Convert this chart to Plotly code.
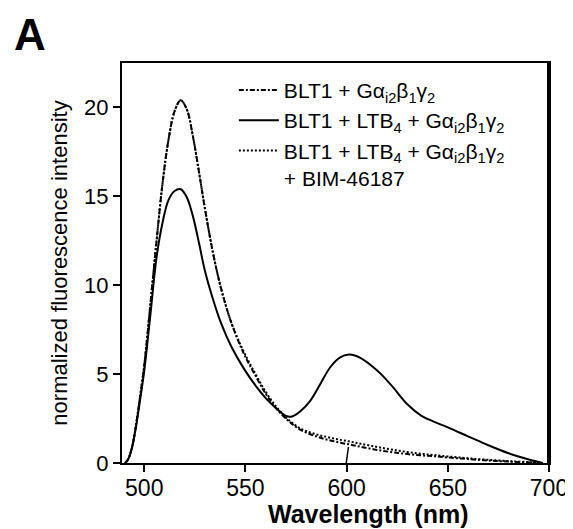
import plotly.graph_objects as go

# emission spectra
wavelength = [490.5, 492, 494, 496, 498, 500, 503, 506, 509, 512, 515, 518, 521, 524, 527,
              530, 534, 538, 543, 549, 555, 560, 565, 570, 573, 577, 582, 587, 592, 597,
              601, 604, 607, 612, 617, 623, 630, 637, 643, 650, 660, 670, 680, 690, 697]

blt1_g = [0, 0.2, 0.9, 2.2, 3.8, 5.5, 8.9, 12.4, 15.7, 18.2, 19.8, 20.4, 19.9, 18.4, 16.4,
          14.3, 11.8, 9.8, 7.9, 6.2, 4.9, 3.9, 3.1, 2.5, 2.2, 1.88, 1.62, 1.42, 1.27, 1.14,
          1.05, 0.98, 0.91, 0.8, 0.7, 0.6, 0.5, 0.43, 0.38, 0.31, 0.22, 0.14, 0.08, 0.03, 0]

blt1_ltb4_g = [0, 0.2, 0.9, 2.1, 3.6, 5.2, 8.3, 11.5, 13.5, 14.8, 15.3, 15.4, 14.95, 13.9, 12.4,
               10.8, 9.2, 7.85, 6.55, 5.35, 4.35, 3.65, 3.1, 2.65, 2.62, 2.9, 3.5, 4.45, 5.4, 5.95,
               6.1, 6.05, 5.9, 5.5, 5.0, 4.25, 3.3, 2.65, 2.33, 2.0, 1.5, 1.0, 0.55, 0.2, 0]

blt1_ltb4_g_bim = [0, 0.2, 0.9, 2.2, 3.8, 5.5, 8.9, 12.4, 15.7, 18.2, 19.8, 20.4, 19.9, 18.4, 16.4,
                   14.3, 11.8, 9.8, 7.9, 6.3, 5.0, 4.0, 3.2, 2.55, 2.27, 1.95, 1.72, 1.55, 1.42, 1.3,
                   1.22, 1.15, 1.08, 0.97, 0.86, 0.74, 0.62, 0.52, 0.45, 0.37, 0.27, 0.18, 0.11, 0.05, 0]

# small stray stroke near 600 nm in the original
stroke_x = [599.8, 600.9]
stroke_y = [0, 0.9]

lab1 = "BLT1 + Gα<sub>i2</sub>β<sub>1</sub>γ<sub>2</sub>"
lab2 = "BLT1 + LTB<sub>4</sub> + Gα<sub>i2</sub>β<sub>1</sub>γ<sub>2</sub>"
lab3 = "BLT1 + LTB<sub>4</sub> + Gα<sub>i2</sub>β<sub>1</sub>γ<sub>2</sub><br>+ BIM-46187"

FONT = "Liberation Sans, Arial, sans-serif"

fig = go.Figure()
fig.add_trace(go.Scatter(x=wavelength, y=blt1_g, mode="lines", name=lab1,
                         line=dict(color="black", width=2, dash="5px,2px,2px,2px", shape="spline")))
fig.add_trace(go.Scatter(x=wavelength, y=blt1_ltb4_g, mode="lines", name=lab2,
                         line=dict(color="black", width=2, shape="spline")))
fig.add_trace(go.Scatter(x=wavelength, y=blt1_ltb4_g_bim, mode="lines", name=lab3,
                         line=dict(color="black", width=2, dash="2px,2px", shape="spline")))
fig.add_trace(go.Scatter(x=stroke_x, y=stroke_y, mode="lines", showlegend=False,
                         line=dict(color="black", width=1.5)))

# page body has an 8px margin, so the figure is a bit smaller than the window
fig.update_layout(
    width=565, height=521,
    margin=dict(l=114, r=24, t=55, b=66),
    plot_bgcolor="white", paper_bgcolor="white",
    font=dict(family=FONT, color="black"),
    legend=dict(x=0.262, y=0.983, xanchor="left", yanchor="top", bgcolor="rgba(0,0,0,0)",
                font=dict(size=21), valign="top", tracegroupgap=0, itemwidth=40),
    annotations=[
        dict(text="<b>A</b>", x=-0.258, y=1.1375, xref="paper", yref="paper",
             xanchor="left", yanchor="top", showarrow=False, font=dict(size=44)),
        dict(text="<b>Wavelength (nm)</b>", x=0.576, y=-0.1275, xref="paper", yref="paper",
             xanchor="center", yanchor="middle", showarrow=False, font=dict(size=25)),
    ],
    shapes=[dict(type="line", xref="paper", yref="paper", x0=1, x1=1, y0=0, y1=1,
                 line=dict(color="black", width=4))],
)
fig.update_xaxes(range=[489, 700], tickvals=[500, 550, 600, 650, 700], automargin=False,
                 showgrid=False, zeroline=False, showline=True, mirror=True,
                 linecolor="black", linewidth=2, ticks="outside", ticklen=7,
                 tickwidth=2, tickcolor="black", ticklabelstandoff=-4,
                 tickfont=dict(size=23), tickprefix="<b>", ticksuffix="</b>")
fig.update_yaxes(range=[0, 22.5], tickvals=[0, 5, 10, 15, 20], automargin=False,
                 showgrid=False, zeroline=False, showline=True, mirror=True,
                 linecolor="black", linewidth=2, ticks="outside", ticklen=7,
                 tickwidth=2, tickcolor="black",
                 tickfont=dict(size=22), tickprefix="<b>", ticksuffix="</b>",
                 title=dict(text="normalized fluorescence intensity", font=dict(size=22),
                            standoff=10))

fig.write_html("out.html")
